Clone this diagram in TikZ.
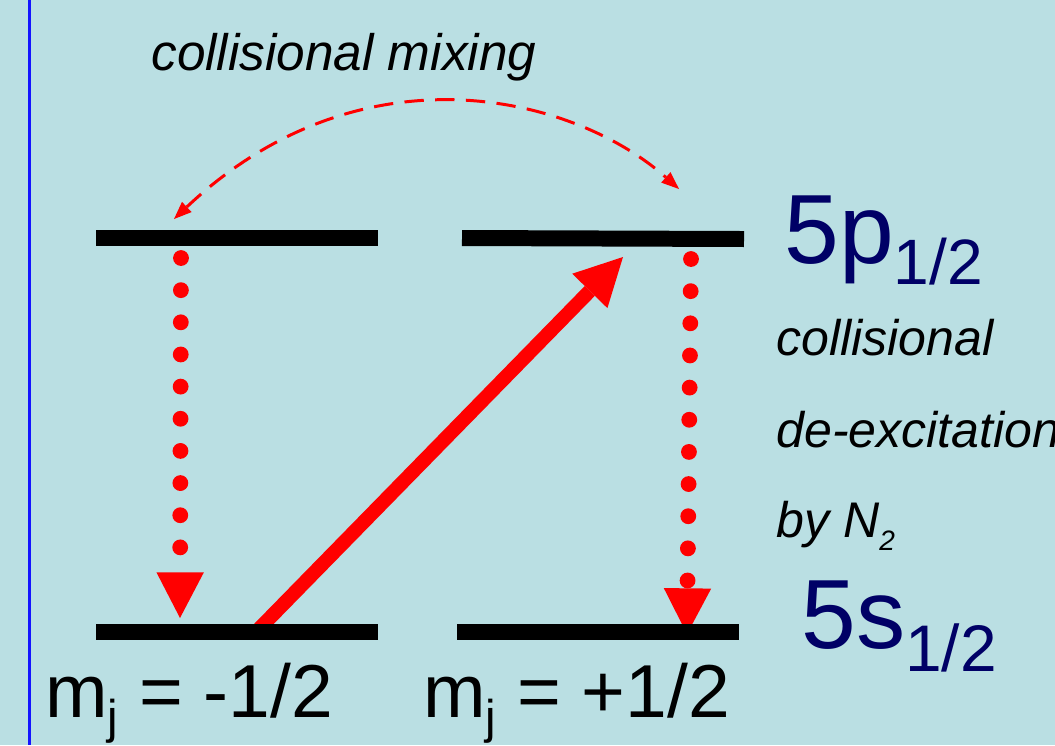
\documentclass[tikz,border=0pt]{standalone}
\usepackage{fontspec}
\setmainfont{Liberation Sans}
\usetikzlibrary{arrows.meta}
\definecolor{panelBlue}{RGB}{186,223,227}
\definecolor{levelNavy}{RGB}{0,0,102}
\definecolor{edgeBlue}{RGB}{20,20,255}
\newcommand{\lowsub}[3]{\raisebox{-#1}{\fontsize{#2}{#2}\selectfont #3}}

\begin{document}
\begin{tikzpicture}[x=0.02cm,y=-0.02cm,
  level/.style={line width=9.1pt, line cap=butt},
  decay/.style={red, line width=9pt, line cap=round, dash pattern=on 0pt off 18.3pt,
    -{Triangle[length=26pt,width=27pt,line width=0pt]}},
  pump/.style={red, line width=8pt, -{Triangle[length=27pt,width=28pt,line width=0pt]}},
  mixing/.style={red, line width=1.7pt, dash pattern=on 11pt off 6.5pt,
    {Triangle[length=10pt,width=8pt,line width=0pt]}-{Triangle[length=10pt,width=8pt,line width=0pt]}},
  note/.style={anchor=base west, inner sep=0pt, font=\fontsize{28.5pt}{34pt}\selectfont\itshape},
  term/.style={anchor=base west, inner sep=0pt, text=levelNavy, font=\fontsize{56pt}{60pt}\selectfont},
  mlabel/.style={anchor=base west, inner sep=0pt, font=\fontsize{42.7pt}{48pt}\selectfont}]
\useasboundingbox (0,0) rectangle (1055,745);
\clip (0,0) rectangle (1055,745);
\fill[panelBlue] (0,0) rectangle (1055,745);
\draw[edgeBlue, line width=1.3pt] (29.5,0) -- (29.5,745);

% level ends
\coordinate (upL1) at (96,238);
\coordinate (upL2) at (378,238);
\coordinate (upR1) at (462,238);
\coordinate (upR2) at (744,239);
\coordinate (loL1) at (96,632);
\coordinate (loL2) at (378,632);
\coordinate (loR1) at (457,632);
\coordinate (loR2) at (739,632);

% transitions
\coordinate (decayL0) at (181,258);
\coordinate (decayL1) at (180,618);
\coordinate (decayR0) at (691,259);
\coordinate (decayR1) at (687,634);
\coordinate (pump0) at (256,632);
\coordinate (pump1) at (623,257);
\coordinate (mixL) at (174,219);
\coordinate (mixR) at (679,189);

\draw[decay] (decayL0) -- (decayL1);
\draw[decay] (decayR0) -- (decayR1);
\draw[pump] (pump0) -- (pump1);
\draw[mixing] (mixL) .. controls (360,44) and (572,94) .. (mixR);

\draw[level] (upL1) -- (upL2);
\draw[level] (upR1) -- (upR2);
\draw[level] (loL1) -- (loL2);
\draw[level] (loR1) -- (loR2);

\node[note, font=\fontsize{29.2pt}{34pt}\selectfont\itshape] (mixText) at (151,70) {collisional mixing};
\node[note] (deexA) at (776,355) {collisional};
\node[note] (deexB) at (776,447) {de-excitation};
\node[note] (deexC) at (776,537) {by N\lowsub{7.4pt}{16pt}{2}};
\node[term] (p12) at (784,263) {5p\lowsub{12.5pt}{36.5pt}{1/2}};
\node[term] (s12) at (801,648) {5s\lowsub{13.5pt}{37.5pt}{1/2}};
\node[mlabel] (mjMinus) at (45,717) {m\lowsub{9.5pt}{27pt}{j} = -1/2};
\node[mlabel] (mjPlus) at (423,717) {m\lowsub{9.5pt}{27pt}{j} = +1/2};
\end{tikzpicture}
\end{document}
